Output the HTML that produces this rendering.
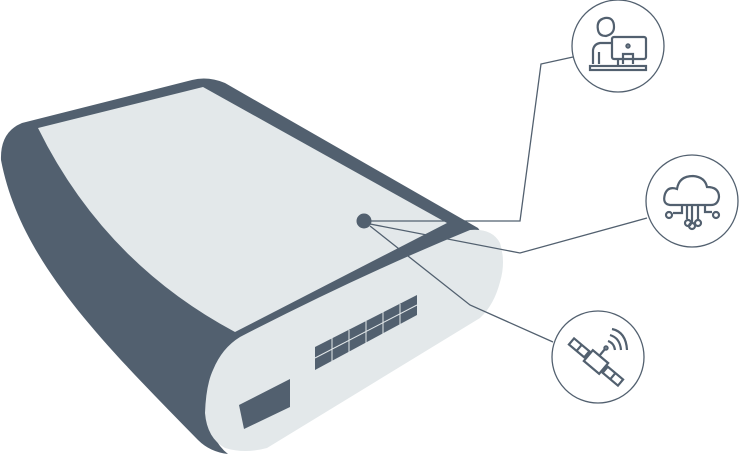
<!DOCTYPE html>
<html><head><meta charset="utf-8"><style>html,body{margin:0;padding:0;background:#fff;}svg{display:block}</style></head><body>
<svg width="739" height="454" viewBox="0 0 739 454" xmlns="http://www.w3.org/2000/svg">
<path d="M22,123 L192,80 Q208,76 225,83 L478,228 L485,238 L250,345 Q215,370 208,410 Q210,440 228,454 Q210,452 198,440 C100,340 20,260 1,160 Q0,132 22,123 Z" fill="#52606f"/>
<path d="M38,128 L203,87 L447,223 L235,332 Q104,262 38,128 Z" fill="#e3e8ea"/>
<path d="M240,337 Q360,275 470,230 Q492,228 500,243 Q506,262 500,282 Q494,305 480,318 L267,448 Q245,454 225,448 Q207,438 205,413 Q206,385 213,370 Q222,348 240,337 Z" fill="#e3e8ea"/>
<polygon points="315,347 417,295 417,315 315,370" fill="#52606f"/>
<g stroke="#e3e8ea" stroke-width="1">
<line x1="315" y1="358" x2="417" y2="305"/>
<line x1="332" y1="338" x2="332" y2="362"/>
<line x1="349" y1="330" x2="349" y2="353"/>
<line x1="366" y1="321" x2="366" y2="344"/>
<line x1="383" y1="312" x2="383" y2="336"/>
<line x1="400" y1="304" x2="400" y2="327"/>
</g>
<polygon points="239,405 290,379 290,407 244,429" fill="#52606f"/>
<circle cx="364" cy="221" r="8" fill="#52606f" stroke="#e3e8ea" stroke-width="1"/>
<g fill="none" stroke="#52606f" stroke-width="1.3">
<polyline points="370,221 520,221 541,64 573,57"/>
<polyline points="370,224 520,253 647,218"/>
<polyline points="370,226 470,305 553,342"/>
</g>
<g fill="#fff" stroke="#52606f" stroke-width="1.3">
<circle cx="618" cy="46" r="46"/>
<circle cx="692" cy="201" r="46"/>
<circle cx="598" cy="357" r="46"/>
</g>
<!-- person at computer -->
<g fill="none" stroke="#52606f" stroke-width="2.2">
<path d="M598,30 Q596,20 605,18 Q614,17 614,27 Q614,34 606,36 Q599,36 598,30 Z"/>
<path d="M593,64 L593,50 Q594,44 600,43 L611,43"/>
<line x1="599" y1="52" x2="599" y2="64"/>
<rect x="612" y="37" width="34" height="22" rx="2" fill="#fff"/>
<circle cx="628" cy="46" r="1.6"/>
<path d="M623,64 L623,54 L633,54 L633,64"/>
<rect x="590" y="66" width="56" height="4"/>
<line x1="618" y1="59" x2="618" y2="66"/>
</g>
<!-- cloud -->
<g fill="none" stroke="#52606f" stroke-width="2.2">
<path d="M670,205 Q662,204 665,194 Q668,186 677,189 Q679,176 693,176 Q705,177 707,187 Q719,187 719,197 Q718,205 711,205 Z"/>
<path d="M682,205 L682,213 L673,213"/><circle cx="669" cy="215" r="3"/>
<path d="M687,205 L687,219"/><circle cx="688" cy="223" r="3"/>
<path d="M692,205 L692,222"/><circle cx="692" cy="226" r="3"/>
<path d="M698,205 L698,219"/><circle cx="698" cy="223" r="3"/>
<path d="M705,205 L705,212 L712,212"/><circle cx="716" cy="215" r="3"/>
</g>
<!-- satellite -->
<g fill="none" stroke="#52606f" stroke-width="2.2">
<g transform="rotate(40 596 362)">
<rect x="586" y="355" width="20" height="14"/>
<rect x="564" y="358" width="20" height="8"/>
<rect x="608" y="358" width="20" height="8"/>
<line x1="574" y1="358" x2="574" y2="366"/>
<line x1="618" y1="358" x2="618" y2="366"/>
</g>
<line x1="600" y1="355" x2="605" y2="349"/>
<circle cx="606" cy="348" r="1.6"/>
<path d="M608,341 Q614,343 615,350"/>
<path d="M610,335 Q620,338 621,350"/>
<path d="M612,329 Q626,332 627,350"/>
</g>
</svg>
</body></html>
